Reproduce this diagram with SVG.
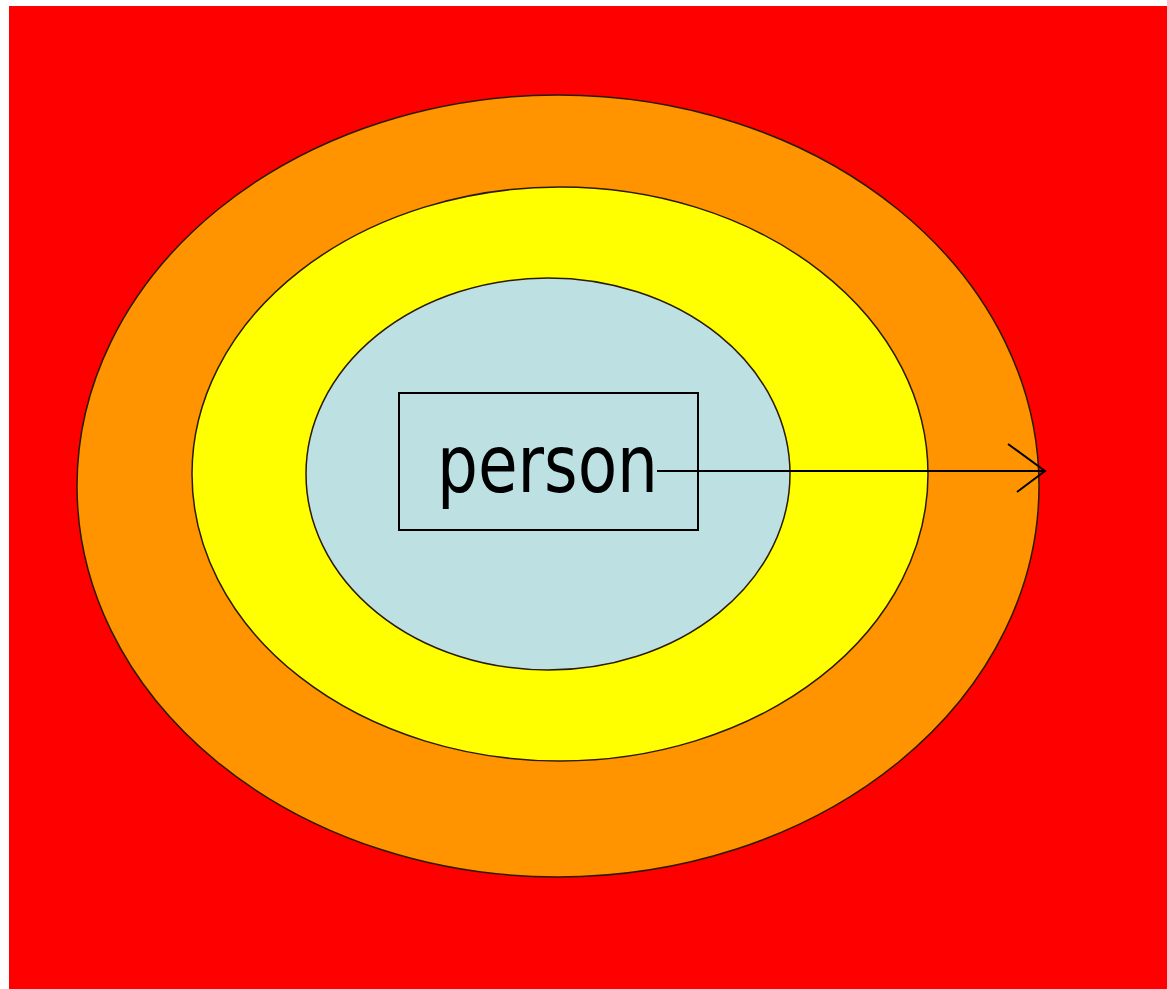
<svg xmlns="http://www.w3.org/2000/svg" width="1167" height="989" viewBox="0 0 1167 989">
<style>
.ring{stroke:#2a1a00;stroke-width:1.5}
.lbl{font-family:"DejaVu Sans Condensed","DejaVu Sans","Liberation Sans",sans-serif;font-size:81px;fill:#000}
.conn{stroke:#000;stroke-width:2;fill:none}
</style>
<rect x="0" y="0" width="1167" height="989" fill="#fff"/>
<rect x="9" y="6" width="1158" height="983" fill="#ff0000"/>
<g id="outer"><ellipse class="ring" cx="558" cy="486" rx="481" ry="391" fill="#ff9300"/></g>
<g id="middle"><ellipse class="ring" cx="560" cy="474" rx="368" ry="287" fill="#ffff00"/></g>
<g id="inner"><ellipse class="ring" cx="548" cy="474" rx="242" ry="196" fill="#bde0e3"/></g>
<g id="person">
<rect x="399" y="393" width="299" height="137" fill="none" stroke="#000" stroke-width="2"/>
<text class="lbl" x="437" y="492" textLength="221" lengthAdjust="spacingAndGlyphs">person</text>
</g>
<g id="connectors">
<line class="conn" x1="657" y1="471" x2="1045" y2="471"/>
<polyline class="conn" points="1008,444 1045,471 1017,492"/>
</g>
</svg>
